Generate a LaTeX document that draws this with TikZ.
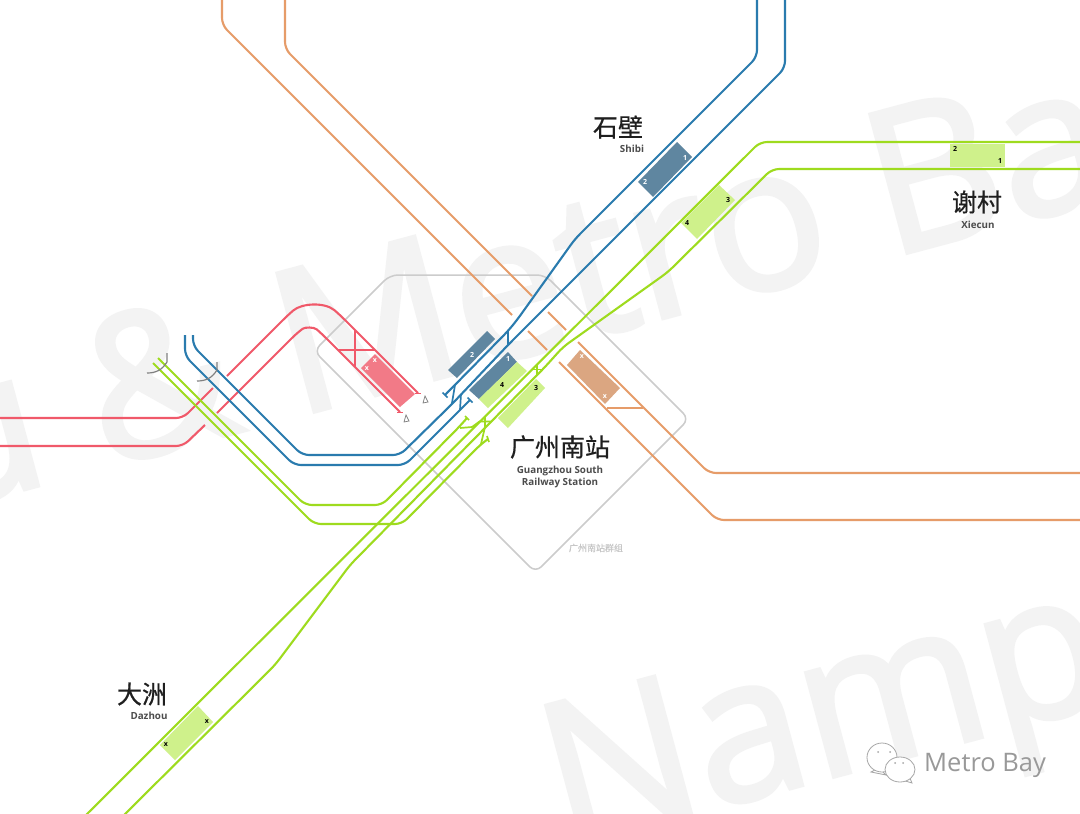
\documentclass[tikz,border=0pt]{standalone}
\usepackage{fontspec}
\setmainfont{Open Sans}
\newfontfamily\cjk[FakeBold=0.5]{Noto Sans CJK SC}
\newfontfamily\wmfont[FakeBold=2.2]{Open Sans}
\definecolor{lblue}{HTML}{2A7BAE}
\definecolor{lgreen}{HTML}{9EDB1E}
\definecolor{lred}{HTML}{F0596A}
\definecolor{lorange}{HTML}{E69C69}
\definecolor{pblue}{HTML}{5F86A0}
\definecolor{pgreen}{HTML}{CFF18B}
\definecolor{pred}{HTML}{F27A87}
\definecolor{porange}{HTML}{DBA681}
\definecolor{wm}{HTML}{F3F3F3}
\tikzset{
  trk/.style={line width=2.1pt,rounded corners=7pt,line cap=butt},
  tick/.style={line width=1.7pt},
  blueline/.style={trk,draw=lblue},
  greenline/.style={trk,draw=lgreen},
  redline/.style={trk,draw=lred},
  orangeline/.style={trk,draw=lorange},
  cjkname/.style={font=\cjk\fontsize{25}{25}\selectfont,text=black!88,inner sep=0pt},
  latname/.style={font=\fontsize{9.8}{12}\selectfont\bfseries,text=black!70,inner sep=0pt,align=center},
  numw/.style={font=\fontsize{7}{7}\selectfont\bfseries,text=white,inner sep=0pt},
  numb/.style={font=\fontsize{7}{7}\selectfont\bfseries,text=black,inner sep=0pt},
  signalmark/.style={line width=1.2pt,draw=gray}
}
\begin{document}
\begin{tikzpicture}[x=1pt,y=-1pt]
\useasboundingbox (0,0) rectangle (1080,814);
\clip (0,0) rectangle (1080,814);
\fill[white] (0,0) rectangle (1080,814);
% watermark
\node[rotate=15,font=\wmfont\fontsize{200}{200}\selectfont,text=wm,inner sep=0pt] (wm1) at (510,285) {u \& Metro Ba};
\node[rotate=15,font=\wmfont\fontsize{200}{200}\selectfont,text=wm,inner sep=0pt,anchor=west] (wm2) at (552,803) {Nampu};
% station group outline
\draw[line width=1.5pt,draw=black!20,rounded corners=8pt] (314,351) -- (390,275) -- (545,275) -- (689,419) -- (535.5,572.5) -- cycle;
% platforms
\fill[pblue] (677,142) -- (692,157) -- (653,197) -- (638,182) -- cycle;
\fill[pgreen] (719,185) -- (735,200) -- (697,239) -- (681,223) -- cycle;
\fill[pgreen] (950,144) rectangle (1005,167);
\fill[pgreen] (198,706) -- (213,722) -- (175,760) -- (160,745) -- cycle;
\fill[pblue] (487,331) -- (495,339) -- (457,378) -- (448,370) -- cycle;
\fill[pblue] (508,352) -- (517,362) -- (479,399) -- (469,390) -- cycle;
\fill[pgreen] (517,362) -- (527,371) -- (488,408) -- (479,399) -- cycle;
\fill[pgreen] (536,379) -- (545,388) -- (508,428) -- (498,418) -- cycle;
\fill[porange] (580,350) -- (620,388) -- (605,404) -- (567,365) -- cycle;
\fill[pred] (375,354) -- (415,394) -- (400,407) -- (361,368) -- cycle;
% red lines
\draw[redline] (0,418) -- (183,418) -- (213,388);
\draw[redline] (227,376) -- (288,315) .. controls (302,303) and (325,302) .. (340,315) -- (418,393);
\draw[redline] (0,446) -- (183,446) -- (205,425);
\draw[redline] (217,413) -- (297,333) .. controls (305,327) and (314,327) .. (322,334) -- (400,412);
\draw[tick,lred] (338,350) -- (375,350);
\draw[tick,lred] (355,330) -- (355,367);
\draw[tick,lred] (415,393.5) -- (421,393.5);
\draw[tick,lred] (397,412.5) -- (403,412.5);
% orange lines
\draw[orangeline] (222,-2) -- (222,25) -- (512,315);
\draw[orangeline] (528,331) -- (547,350);
\draw[orangeline] (559,362) -- (717,520) -- (1082,520);
\draw[orangeline] (285,-2) -- (285,49) -- (532,296);
\draw[orangeline] (548,312) -- (566,330);
\draw[orangeline] (578,342) -- (709,473) -- (1082,473);
\draw[tick,lorange] (607,408) -- (643,408);
% green lines
\draw[greenline] (1082,142) -- (760,142) -- (85,816);
\draw[greenline] (1082,169) -- (772,169) -- (668,272) -- (563,347) -- (545,367) -- (350,565) -- (275,665) -- (123,816);
\draw[greenline] (158,358) -- (305,505) -- (382,505) -- (460,426) -- (467,418);
\draw[greenline] (153,363) -- (314,524) -- (402,524) -- (480,445) -- (488,439);
\draw[tick,lgreen] (460,428) -- (472,427) -- (479.5,421.5) -- (490.5,421.5);
\draw[tick,lgreen] (485,416) -- (485,427) -- (481,444);
\draw[tick,lgreen] (531.5,369.5) -- (542.5,369.5);
\draw[tick,lgreen] (537,364) -- (537,375);
\draw[tick,lgreen] (465,416) -- (469,420);
\draw[tick,lgreen] (487,436) -- (489,442);
% blue lines
\draw[blueline] (757,-2) -- (757,57) -- (575,239) -- (517,320) -- (508,331) -- (445,395);
\draw[blueline] (785,-2) -- (785,68) -- (508,345) -- (453,403) -- (400,455) -- (302,455) -- (193,346) -- (193,335);
\draw[blueline] (470,400) -- (405,465) -- (294,465) -- (185,356) -- (185,335);
\draw[tick,lblue] (508,330) -- (508,345);
\draw[tick,lblue] (455,385) -- (452,403);
\draw[tick,lblue] (461,394) -- (460,410);
\draw[tick,lblue] (442.5,392.5) -- (447.5,397.5);
\draw[tick,lblue] (467.5,397.5) -- (472.5,402.5);
% buffers and signals
\draw[signalmark] (167,353) -- (167,362) .. controls (162,370) and (156,373) .. (147,373);
\draw[signalmark] (217,362) -- (217,370) .. controls (212,378) and (206,381) .. (197,381);
\draw[signalmark,line width=0.7pt] (425,396) -- (423,403) -- (428,402) -- cycle;
\draw[signalmark,line width=0.7pt] (406,415) -- (404,422) -- (409,421) -- cycle;
% platform numbers
\node[numw] (n1) at (685,158) {1};
\node[numw] (n2) at (645,182) {2};
\node[numb] (n3) at (728,200) {3};
\node[numb] (n4) at (687,223) {4};
\node[numb] (n5) at (955,149) {2};
\node[numb] (n6) at (1000,161) {1};
\node[numb] (n7) at (207,722) {x};
\node[numb] (n8) at (166,745) {x};
\node[numw] (n9) at (472,355) {2};
\node[numw] (n10) at (508,359) {1};
\node[numb] (n11) at (502,385) {4};
\node[numb] (n12) at (536,388) {3};
\node[numw] (n13) at (582,357) {x};
\node[numw] (n14) at (605,397) {x};
\node[numw] (n15) at (375,361) {x};
\node[numw] (n16) at (367,369) {x};
% station names
\node[cjkname] (s1) at (618,127) {石壁};
\node[latname] (s1l) at (632,149) {Shibi};
\node[cjkname] (s2) at (977,202) {谢村};
\node[latname] (s2l) at (978,225) {Xiecun};
\node[cjkname] (s3) at (142,694) {大洲};
\node[latname] (s3l) at (149,716) {Dazhou};
\node[cjkname] (s4) at (560,447) {广州南站};
\node[latname] (s4l) at (560,477) {Guangzhou South\\Railway Station};
\node[font=\cjk\fontsize{9}{9}\selectfont,text=black!22,inner sep=0pt] (grp) at (596,548) {广州南站群组};
% logo
\begin{scope}[draw=black!35,line width=0.8pt,fill=white]
\filldraw (871,772) -- (879,768) -- (886,775) -- cycle;
\filldraw (882,757.5) ellipse [x radius=15, y radius=14.5];
\filldraw (909,776) -- (912,783) -- (902,780) -- cycle;
\filldraw (900,769.5) ellipse [x radius=15, y radius=12.5];
\fill[black!35] (878,752) circle (1) (890,752) circle (1) (895,763) circle (1) (903,763) circle (1);
\end{scope}
\node[font=\fontsize{25.5}{26}\selectfont,text=black!40,inner sep=0pt,anchor=west] (logo) at (924,765) {Metro Bay};
\end{tikzpicture}
\end{document}
